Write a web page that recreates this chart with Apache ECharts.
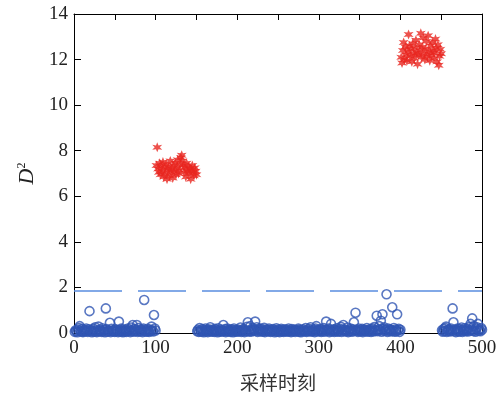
<!DOCTYPE html>
<html>
<head>
<meta charset="utf-8">
<script src="https://cdn.jsdelivr.net/npm/echarts@6/dist/echarts.min.js"></script>
<style>
  html, body { margin: 0; padding: 0; background: #fff; }
  #chart { width: 504px; height: 397px; }
</style>
</head>
<body>
<div id="chart"></div>
<script>
// 正常样本 D² (1-100, 151-400, 451-500)
const normalA = [
  0.05,0.12,0.08,0.03,0.15,0.22,0.30,0.10,0.06,0.18,
  0.04,0.09,0.14,0.07,0.20,0.11,0.05,0.16,0.96,0.08,
  0.13,0.03,0.10,0.19,0.06,0.25,0.12,0.04,0.09,0.28,
  0.07,0.15,0.11,0.05,0.21,0.08,0.14,0.03,1.08,0.17,
  0.06,0.12,0.09,0.45,0.04,0.18,0.10,0.07,0.13,0.05,
  0.16,0.08,0.11,0.04,0.50,0.14,0.06,0.19,0.09,0.03,
  0.12,0.07,0.15,0.05,0.10,0.20,0.08,0.13,0.04,0.24,
  0.11,0.35,0.06,0.17,0.09,0.14,0.35,0.05,0.22,0.10,
  0.07,0.16,0.12,0.04,0.19,1.45,0.08,0.13,0.06,0.18,
  0.10,0.05,0.15,0.09,0.28,0.12,0.07,0.79,0.20,0.11
]
const normalB = [
  0.08,0.14,0.05,0.22,0.11,0.06,0.17,0.09,0.03,0.13,
  0.20,0.07,0.12,0.04,0.16,0.10,0.25,0.06,0.14,0.08,
  0.11,0.05,0.18,0.09,0.13,0.03,0.21,0.07,0.15,0.10,
  0.06,0.12,0.35,0.08,0.17,0.04,0.11,0.19,0.07,0.14,
  0.09,0.05,0.16,0.12,0.03,0.20,0.08,0.13,0.06,0.10,
  0.15,0.07,0.11,0.24,0.05,0.14,0.09,0.18,0.04,0.12,
  0.08,0.27,0.47,0.10,0.06,0.30,0.13,0.07,0.22,0.11,
  0.16,0.50,0.09,0.25,0.05,0.14,0.20,0.08,0.12,0.18,
  0.06,0.10,0.23,0.04,0.15,0.09,0.13,0.07,0.19,0.11,
  0.05,0.14,0.08,0.17,0.10,0.03,0.12,0.21,0.06,0.15,
  0.09,0.04,0.13,0.18,0.07,0.11,0.05,0.16,0.10,0.08,
  0.14,0.06,0.20,0.09,0.12,0.04,0.17,0.07,0.11,0.15,
  0.05,0.10,0.13,0.08,0.19,0.06,0.14,0.03,0.12,0.09,
  0.16,0.07,0.11,0.22,0.05,0.13,0.08,0.18,0.10,0.25,
  0.06,0.12,0.09,0.15,0.04,0.20,0.30,0.07,0.14,0.11,
  0.08,0.17,0.05,0.13,0.10,0.22,0.06,0.15,0.50,0.12,
  0.09,0.19,0.04,0.14,0.40,0.07,0.11,0.16,0.05,0.13,
  0.10,0.21,0.06,0.12,0.08,0.18,0.27,0.05,0.14,0.35,
  0.09,0.15,0.07,0.11,0.24,0.04,0.13,0.08,0.19,0.10,
  0.06,0.16,0.47,0.12,0.89,0.09,0.14,0.05,0.20,0.11,
  0.07,0.13,0.18,0.04,0.10,0.15,0.08,0.12,0.22,0.06,
  0.14,0.09,0.17,0.05,0.11,0.19,0.07,0.26,0.13,0.10,
  0.76,0.08,0.15,0.30,0.12,0.54,0.06,0.82,0.18,0.25,
  0.09,0.14,1.70,0.05,0.20,0.11,0.16,0.07,0.13,1.13,
  0.10,0.22,0.06,0.15,0.08,0.82,0.12,0.18,0.05,0.14
]
const normalC = [
  0.12,0.06,0.18,0.09,0.22,0.28,0.05,0.14,0.10,0.16,
  0.07,0.20,0.11,1.08,0.47,0.08,0.15,0.04,0.13,0.19,
  0.09,0.06,0.17,0.12,0.24,0.05,0.14,0.10,0.21,0.08,
  0.13,0.18,0.07,0.26,0.11,0.40,0.15,0.64,0.09,0.30,
  0.12,0.06,0.19,0.25,0.40,0.10,0.16,0.08,0.22,0.14
]
// 故障样本 D² (101-150, 401-450)
const faultA = [
  7.35,8.15,7.20,7.05,7.45,6.95,7.30,7.10,7.50,6.85,
  7.25,7.00,7.40,6.75,7.15,7.30,6.90,7.55,7.05,7.20,
  6.80,7.35,7.10,7.45,6.95,7.25,7.60,7.00,7.15,7.40,
  7.70,7.80,7.55,7.35,7.05,7.25,6.85,7.45,7.10,7.30,
  7.00,7.20,6.75,7.15,7.35,7.05,6.90,7.25,7.10,6.95
]
const faultB = [
  12.10,11.85,12.40,12.75,12.00,12.55,12.20,11.95,12.35,13.10,
  12.60,12.15,12.45,11.90,12.70,12.25,12.05,12.50,12.85,12.30,
  11.80,12.20,12.65,12.40,13.15,12.10,12.55,12.95,12.25,12.00,
  12.45,12.80,12.15,13.05,12.35,11.95,12.60,12.20,12.75,12.40,
  12.05,12.30,12.90,12.50,11.90,12.65,11.75,12.15,12.45,12.25
]
const segStart = { normalA: 1, normalB: 151, normalC: 451, faultA: 101, faultB: 401 }
const threshold = 1.86

const toPoints = (arr, start) => arr.map((v, i) => [start + i, v])

const normalData = [
  ...toPoints(normalA, segStart.normalA),
  ...toPoints(normalB, segStart.normalB),
  ...toPoints(normalC, segStart.normalC)
]
const faultData = [
  ...toPoints(faultA, segStart.faultA),
  ...toPoints(faultB, segStart.faultB)
]

const starPath = 'path://M0,-10 L2.2,-3.8 L8.7,-5 L4.4,0 L8.7,5 L2.2,3.8 L0,10 L-2.2,3.8 L-8.7,5 L-4.4,0 L-8.7,-5 L-2.2,-3.8 Z'
const serif = '"Liberation Serif", "Times New Roman", serif'

// 边框轴：不贴零点，刻度朝内
const frameAxis = (tickLen) => ({
  axisLine: { show: true, onZero: false, lineStyle: { color: '#000', width: 1 } },
  axisTick: { show: true, inside: true, length: tickLen, lineStyle: { color: '#000' } },
  splitLine: { show: false }
})

const myChart = echarts.init(document.getElementById('chart'))
myChart.setOption({
  animation: false,
  grid: { left: 74, right: 22, top: 14, bottom: 64 },
  xAxis: [
    {
      type: 'value', min: 0, max: 500, interval: 50, position: 'bottom',
      ...frameAxis(6),
      axisLabel: {
        color: '#222', fontFamily: serif, fontSize: 19, margin: 6,
        formatter: v => (v % 100 === 0 ? v : '')
      },
      name: '采样时刻', nameLocation: 'middle', nameGap: 40,
      nameTextStyle: { color: '#333', fontFamily: '"Noto Sans CJK SC"', fontSize: 19 }
    },
    {
      type: 'value', min: 0, max: 500, interval: 50, position: 'top',
      ...frameAxis(6),
      axisLabel: { show: false }
    }
  ],
  yAxis: [
    {
      type: 'value', min: 0, max: 14, interval: 2, position: 'left',
      ...frameAxis(7),
      axisLabel: { color: '#222', fontFamily: serif, fontSize: 19, margin: 6 },
      name: '{d|D}{s|2}', nameLocation: 'middle', nameGap: 36,
      nameTextStyle: {
        rich: {
          d: { fontFamily: serif, fontStyle: 'italic', fontSize: 22, color: '#222' },
          s: { fontFamily: serif, fontSize: 12, color: '#222', verticalAlign: 'top', padding: [0, 0, 10, 0] }
        }
      }
    },
    {
      type: 'value', min: 0, max: 14, interval: 2, position: 'right',
      ...frameAxis(7),
      axisLabel: { show: false }
    }
  ],
  series: [
    {
      type: 'scatter',
      data: normalData,
      symbol: 'circle',
      symbolSize: 9,
      itemStyle: { color: 'transparent', borderColor: '#2f55b3', borderWidth: 1.6 },
      markLine: {
        silent: true,
        symbol: 'none',
        label: { show: false },
        emphasis: { disabled: true },
        lineStyle: { color: '#5a8de0', width: 1.5, type: [48, 16], opacity: 1 },
        data: [{ yAxis: threshold }]
      }
    },
    {
      type: 'scatter',
      data: faultData,
      symbol: starPath,
      symbolSize: 10,
      itemStyle: { color: '#e8261f' }
    }
  ]
})
</script>
</body>
</html>
